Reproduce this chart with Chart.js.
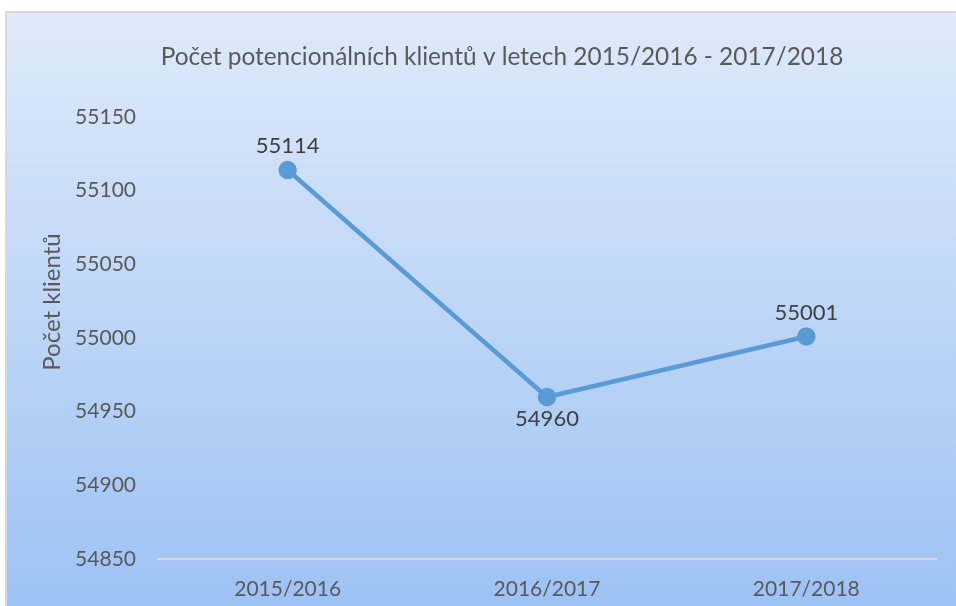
<!DOCTYPE html>
<html>
<head>
<meta charset="utf-8">
<script src="https://cdn.jsdelivr.net/npm/chart.js@4"></script>
<style>
  html, body { margin: 0; padding: 0; background: #ffffff; }
  #wrap { width: 956px; height: 606px; }
</style>
</head>
<body>
<div id="wrap"><canvas id="chart" width="956" height="606"></canvas></div>
<script>
// chart data
const years = ['2015/2016', '2016/2017', '2017/2018'];
const clients = [55114, 54960, 55001];
const labelSide = ['top', 'bottom', 'top'];
const chartTitle = 'Počet potencionálních klientů v letech 2015/2016 - 2017/2018';
const yTitle = 'Počet klientů';

const FONT = 'Lato, "Liberation Sans", sans-serif';

// gradient card, title and axis title
const cardBackground = {
    id: 'cardBackground',
    beforeDraw(chart) {
        const ctx = chart.ctx;
        const g = ctx.createLinearGradient(0, 11, 0, 606);
        g.addColorStop(0, '#dfeafa');
        g.addColorStop(1, '#9dc2f4');
        ctx.save();
        ctx.fillStyle = '#ffffff';
        ctx.fillRect(0, 0, chart.width, chart.height);
        ctx.fillStyle = g;
        ctx.fillRect(5, 11, chart.width - 5, chart.height - 11);
        ctx.strokeStyle = '#d9d9d9';
        ctx.lineWidth = 2;
        ctx.beginPath();
        ctx.moveTo(6, chart.height);
        ctx.lineTo(6, 12);
        ctx.lineTo(chart.width, 12);
        ctx.stroke();

        ctx.fillStyle = '#595959';
        ctx.textAlign = 'center';
        ctx.textBaseline = 'middle';
        ctx.font = '24.4px ' + FONT;
        ctx.fillText(chartTitle, 502, 57);

        // y axis title, a bit above the plot centre like the original
        ctx.translate(52, 302);
        ctx.rotate(-Math.PI / 2);
        ctx.font = '24px ' + FONT;
        ctx.fillText(yTitle, 0, 0);
        ctx.restore();
    }
};

// value labels next to the points
const valueLabels = {
    id: 'valueLabels',
    afterDatasetsDraw(chart) {
        const ctx = chart.ctx;
        const meta = chart.getDatasetMeta(0);
        ctx.save();
        ctx.font = '22px ' + FONT;
        ctx.fillStyle = '#404040';
        ctx.textAlign = 'center';
        ctx.textBaseline = 'middle';
        meta.data.forEach((pt, i) => {
            const dy = labelSide[i] === 'top' ? -24 : 22;
            ctx.fillText(String(clients[i]), pt.x, pt.y + dy);
        });
        ctx.restore();
    }
};

new Chart(document.getElementById('chart'), {
    type: 'line',
    data: {
        labels: years,
        datasets: [{
            data: clients,
            borderColor: '#5b9bd5',
            backgroundColor: '#5b9bd5',
            borderWidth: 4.5,
            pointRadius: 7,
            pointHoverRadius: 7,
            tension: 0
        }]
    },
    options: {
        responsive: false,
        animation: false,
        layout: { padding: { left: 0, right: 20, top: 117, bottom: 5 } },
        plugins: {
            legend: { display: false },
            tooltip: { enabled: false },
            title: { display: false }
        },
        scales: {
            x: {
                offset: true,
                grid: { display: false },
                border: { display: true, color: '#d9d9d9', width: 2 },
                afterFit(scale) { scale.height = 42; },
                ticks: {
                    color: '#595959',
                    padding: 10,
                    font: { family: FONT, size: 21 }
                }
            },
            y: {
                min: 54850,
                max: 55150,
                grid: { display: false },
                border: { display: false },
                afterFit(scale) { scale.width = 158; },
                ticks: {
                    stepSize: 50,
                    padding: 14,
                    color: '#595959',
                    font: { family: FONT, size: 21 },
                    callback: v => String(v)
                }
            }
        }
    },
    plugins: [cardBackground, valueLabels]
});
</script>
</body>
</html>
